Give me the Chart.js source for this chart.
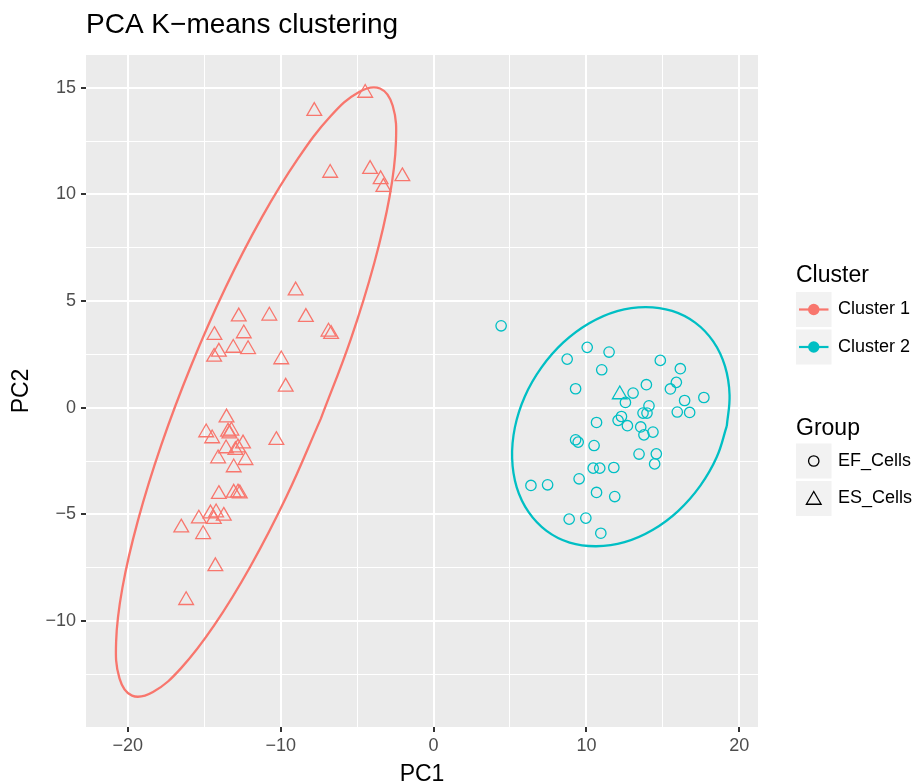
<!DOCTYPE html>
<html>
<head>
<meta charset="utf-8">
<title>PCA K-means clustering</title>
<script src="https://cdn.jsdelivr.net/npm/chart.js@4.4.0/dist/chart.umd.min.js"></script>
<style>
  body { margin: 0; background: #fff; }
</style>
</head>
<body>
<canvas id="pcaChart" width="921" height="782"></canvas>
<script>
// values, [PC1, PC2]
const cluster1EsCells = [
    [-4.47, 14.75], [-7.80, 13.90], [-6.76, 11.00], [-4.15, 11.18], [-3.46, 10.70], [-3.28, 10.34],
    [-2.04, 10.84], [-9.02, 5.49], [-12.74, 4.27], [-10.74, 4.31], [-8.35, 4.25],
    [-6.87, 3.56], [-6.70, 3.45], [-14.33, 3.40], [-12.41, 3.48], [-14.04, 2.62], [-13.10, 2.80],
    [-12.13, 2.74], [-14.35, 2.38], [-9.96, 2.26], [-9.67, 0.98],
    [-13.54, -0.46], [-14.87, -1.16], [-14.48, -1.44], [-13.44, -1.13], [-13.22, -1.08], [-13.35, -1.21],
    [-10.28, -1.52], [-12.46, -1.68], [-13.57, -1.91], [-12.96, -1.99], [-12.79, -1.87], [-14.09, -2.38],
    [-12.30, -2.46], [-13.07, -2.80],
    [-14.04, -4.05], [-13.07, -3.99], [-12.79, -3.98], [-12.67, -4.02],
    [-15.35, -5.20], [-14.59, -4.96], [-14.22, -4.91], [-14.37, -5.22], [-13.72, -5.07], [-16.50, -5.62],
    [-15.07, -5.93], [-14.27, -7.43], [-16.18, -9.02]
];

const cluster2EfCells = [
    [4.42, 3.84], [8.74, 2.28], [10.05, 2.83], [11.48, 2.61], [11.00, 1.78], [14.83, 2.22], [16.14, 1.83],
    [9.29, 0.89], [13.92, 1.08], [15.88, 1.19], [15.49, 0.88], [13.05, 0.69], [12.55, 0.25], [16.42, 0.34],
    [17.68, 0.48], [14.09, 0.09], [13.70, -0.25], [13.96, -0.25], [15.94, -0.20], [16.75, -0.22],
    [12.29, -0.41], [12.07, -0.59], [10.66, -0.69], [12.68, -0.84], [13.55, -0.90], [14.35, -1.14],
    [13.76, -1.27], [9.29, -1.50], [9.46, -1.61], [10.50, -1.77], [13.44, -2.17], [14.57, -2.16],
    [14.46, -2.63], [10.44, -2.83], [10.87, -2.83], [11.79, -2.80], [9.52, -3.33], [6.37, -3.64],
    [7.46, -3.61], [10.66, -3.97], [11.85, -4.16], [8.87, -5.22], [9.96, -5.17], [10.94, -5.88]
];

const cluster2EsCells = [[12.18, 0.62]];

// ellipse outlines
const ellipse1 = [
    [-7.37, -0.51], [-9.61, -4.15], [-11.99, -7.45], [-14.35, -10.20], [-16.51, -12.20], [-18.35, -13.32],
    [-19.72, -13.49], [-20.54, -12.68], [-20.76, -10.96], [-20.35, -8.44], [-19.34, -5.30], [-17.81, -1.75],
    [-15.85, 1.98], [-13.61, 5.62], [-11.23, 8.92], [-8.87, 11.67], [-6.71, 13.68], [-4.87, 14.80],
    [-3.50, 14.96], [-2.67, 14.15], [-2.46, 12.43], [-2.87, 9.91], [-3.88, 6.77], [-5.41, 3.22],
    [-7.37, -0.51]
];

const ellipse2 = [
    [19.18, -0.85], [18.53, -2.30], [17.45, -3.65], [16.01, -4.83], [14.32, -5.73], [12.49, -6.30],
    [10.64, -6.49], [8.90, -6.32], [7.39, -5.77], [6.21, -4.88], [5.44, -3.73], [5.14, -2.37],
    [5.32, -0.92], [5.97, 0.53], [7.05, 1.88], [8.49, 3.06], [10.18, 3.96], [12.01, 4.53],
    [13.86, 4.72], [15.60, 4.54], [17.11, 3.99], [18.29, 3.11], [19.06, 1.95], [19.36, 0.60],
    [19.18, -0.85]
];

const clusterNames = ['Cluster 1', 'Cluster 2'];
const clusterColors = ['#F8766D', '#00BFC4'];
const groupNames = ['EF_Cells', 'ES_Cells'];
const xTicks = [-20, -10, 0, 10, 20];
const yTicks = [-10, -5, 0, 5, 10, 15];

const FONT = '"Liberation Sans", Arial, Helvetica, sans-serif';

function toXY(arr) {
    return arr.map(p => ({x: p[0], y: p[1]}));
}

function fmt(v) {
    return v < 0 ? '\u2212' + Math.abs(v) : String(v);
}

function isMajor(v, list) {
    return list.some(t => Math.abs(t - v) < 1e-6);
}

const panelBg = {
    id: 'panelBg',
    beforeDraw(chart) {
        const a = chart.chartArea, ctx = chart.ctx;
        ctx.save();
        ctx.fillStyle = '#EBEBEB';
        ctx.fillRect(a.left, a.top, a.right - a.left, a.bottom - a.top);
        ctx.restore();
    }
};

function triangle(ctx, x, y, r) {
    ctx.beginPath();
    for (let i = 0; i < 3; i++) {
        const a = i * 2 * Math.PI / 3;
        const px = x + Math.sin(a) * r, py = y - Math.cos(a) * r;
        if (i === 0) ctx.moveTo(px, py); else ctx.lineTo(px, py);
    }
    ctx.closePath();
    ctx.stroke();
}

const ggLegend = {
    id: 'ggLegend',
    afterDraw(chart) {
        const ctx = chart.ctx;
        const left = 796, keyW = 35.5, keyH = 35;
        ctx.save();

        ctx.fillStyle = '#000';
        ctx.textAlign = 'left';
        ctx.textBaseline = 'alphabetic';
        ctx.font = '23px ' + FONT;
        ctx.fillText('Cluster', left, 281.5);

        clusterNames.forEach((name, i) => {
            const top = 292 + i * 37.5, cy = top + keyH / 2;
            ctx.fillStyle = '#F2F2F2';
            ctx.fillRect(left, top, keyW, keyH);
            ctx.strokeStyle = clusterColors[i];
            ctx.lineWidth = 2.2;
            ctx.beginPath();
            ctx.moveTo(left + 3, cy);
            ctx.lineTo(left + keyW - 3, cy);
            ctx.stroke();
            ctx.fillStyle = clusterColors[i];
            ctx.beginPath();
            ctx.arc(left + keyW / 2, cy, 5.7, 0, 2 * Math.PI);
            ctx.fill();
            ctx.fillStyle = '#000';
            ctx.font = '18px ' + FONT;
            ctx.textBaseline = 'middle';
            ctx.fillText(name, 838, cy);
            ctx.textBaseline = 'alphabetic';
        });

        ctx.font = '23px ' + FONT;
        ctx.fillText('Group', left, 434.5);

        groupNames.forEach((name, i) => {
            const top = 443.5 + i * 37.5, cy = top + keyH / 2;
            ctx.fillStyle = '#F2F2F2';
            ctx.fillRect(left, top, keyW, keyH);
            ctx.strokeStyle = '#000';
            ctx.lineWidth = 1.3;
            if (i === 0) {
                ctx.beginPath();
                ctx.arc(left + keyW / 2, cy, 5.2, 0, 2 * Math.PI);
                ctx.stroke();
            } else {
                triangle(ctx, left + keyW / 2, cy + 1.5, 8.5);
            }
            ctx.fillStyle = '#000';
            ctx.font = '18px ' + FONT;
            ctx.textBaseline = 'middle';
            ctx.fillText(name, 838, cy);
            ctx.textBaseline = 'alphabetic';
        });

        ctx.restore();
    }
};

const ctx = document.getElementById('pcaChart').getContext('2d');

const pcaChart = new Chart(ctx, {
    type: 'scatter',
    data: {
        datasets: [{
            label: 'ellipse Cluster 1',
            data: toXY(ellipse1),
            showLine: true,
            borderColor: clusterColors[0],
            borderWidth: 2.3,
            pointRadius: 0,
            tension: 0.4,
            fill: false
        }, {
            label: 'ellipse Cluster 2',
            data: toXY(ellipse2),
            showLine: true,
            borderColor: clusterColors[1],
            borderWidth: 2.3,
            pointRadius: 0,
            tension: 0.4,
            fill: false
        }, {
            label: 'Cluster 1 ES_Cells',
            data: toXY(cluster1EsCells),
            pointStyle: 'triangle',
            pointRadius: 8.5,
            borderColor: clusterColors[0],
            backgroundColor: 'rgba(0,0,0,0)',
            borderWidth: 1.3
        }, {
            label: 'Cluster 2 EF_Cells',
            data: toXY(cluster2EfCells),
            pointStyle: 'circle',
            pointRadius: 5.2,
            borderColor: clusterColors[1],
            backgroundColor: 'rgba(0,0,0,0)',
            borderWidth: 1.3
        }, {
            label: 'Cluster 2 ES_Cells',
            data: toXY(cluster2EsCells),
            pointStyle: 'triangle',
            pointRadius: 8.5,
            borderColor: clusterColors[1],
            backgroundColor: 'rgba(0,0,0,0)',
            borderWidth: 1.3
        }]
    },
    options: {
        responsive: false,
        animation: false,
        devicePixelRatio: 1,
        events: [],
        layout: {
            padding: {top: 0, right: 163, bottom: 0, left: 0}
        },
        plugins: {
            legend: {display: false},
            tooltip: {enabled: false},
            title: {
                display: true,
                text: 'PCA K\u2212means clustering',
                align: 'start',
                fullSize: false,
                color: '#000',
                font: {family: FONT, size: 28, weight: 'normal', lineHeight: 1},
                padding: {top: 11, bottom: 16}
            }
        },
        scales: {
            x: {
                type: 'linear',
                min: -22.73,
                max: 21.22,
                afterFit: s => { s.height = 55; },
                border: {display: false},
                grid: {
                    color: '#FFFFFF',
                    lineWidth: c => isMajor(c.tick.value, xTicks) ? 2 : 1,
                    tickColor: c => isMajor(c.tick.value, xTicks) ? '#333333' : 'rgba(0,0,0,0)',
                    tickLength: 5,
                    tickWidth: 2
                },
                ticks: {
                    stepSize: 5,
                    includeBounds: false,
                    autoSkip: false,
                    maxRotation: 0,
                    padding: 3,
                    color: '#4D4D4D',
                    font: {family: FONT, size: 18},
                    callback: v => isMajor(v, xTicks) ? fmt(v) : ''
                },
                title: {
                    display: true,
                    text: 'PC1',
                    color: '#000',
                    font: {family: FONT, size: 23, lineHeight: 0.8},
                    padding: {top: 0, bottom: -2}
                }
            },
            y: {
                type: 'linear',
                min: -14.96,
                max: 16.53,
                afterFit: s => { s.width = 86; },
                border: {display: false},
                grid: {
                    color: '#FFFFFF',
                    lineWidth: c => isMajor(c.tick.value, yTicks) ? 2 : 1,
                    tickColor: c => isMajor(c.tick.value, yTicks) ? '#333333' : 'rgba(0,0,0,0)',
                    tickLength: 5,
                    tickWidth: 2
                },
                ticks: {
                    stepSize: 2.5,
                    includeBounds: false,
                    autoSkip: false,
                    padding: 5,
                    color: '#4D4D4D',
                    font: {family: FONT, size: 18},
                    callback: v => isMajor(v, yTicks) ? fmt(v) : ''
                },
                title: {
                    display: true,
                    text: 'PC2',
                    color: '#000',
                    font: {family: FONT, size: 23, lineHeight: 1},
                    padding: {top: 10, bottom: 0}
                }
            }
        }
    },
    plugins: [panelBg, ggLegend]
});
</script>
</body>
</html>
